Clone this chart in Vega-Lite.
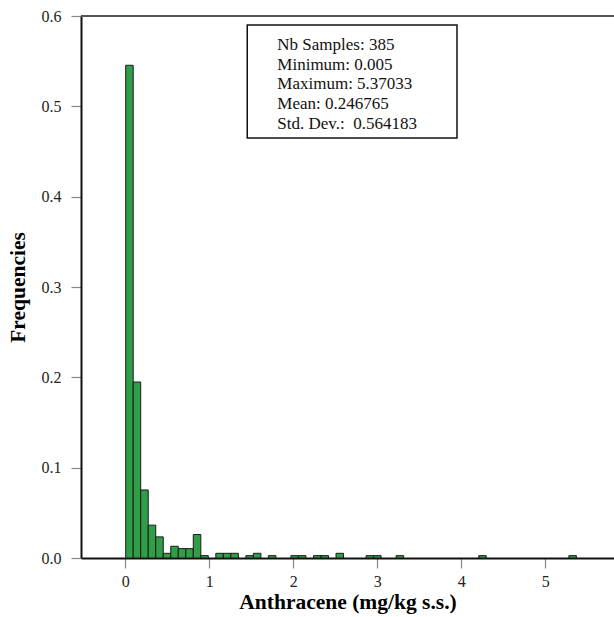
{
  "$schema": "https://vega.github.io/schema/vega-lite/v6.json",
  "width": 533,
  "height": 542,
  "autosize": {"type": "none"},
  "padding": {"left": 81, "top": 16, "right": 0, "bottom": 59},
  "background": "white",
  "config": {
    "view": {"stroke": null},
    "font": "Liberation Serif",
    "axis": {"labelFont": "Liberation Serif", "titleFont": "Liberation Serif", "grid": false}
  },
  "datasets": {
    "bins": [
      {"bin_start": 0.005, "bin_end": 0.09442, "freq": 0.54545},
      {"bin_start": 0.09442, "bin_end": 0.18384, "freq": 0.19481},
      {"bin_start": 0.18384, "bin_end": 0.27327, "freq": 0.07532},
      {"bin_start": 0.27327, "bin_end": 0.36269, "freq": 0.03636},
      {"bin_start": 0.36269, "bin_end": 0.45211, "freq": 0.02338},
      {"bin_start": 0.45211, "bin_end": 0.54153, "freq": 0.00519},
      {"bin_start": 0.54153, "bin_end": 0.63096, "freq": 0.01299},
      {"bin_start": 0.63096, "bin_end": 0.72038, "freq": 0.01039},
      {"bin_start": 0.72038, "bin_end": 0.8098, "freq": 0.01039},
      {"bin_start": 0.8098, "bin_end": 0.89922, "freq": 0.02597},
      {"bin_start": 0.89922, "bin_end": 0.98864, "freq": 0.0026},
      {"bin_start": 1.07807, "bin_end": 1.16749, "freq": 0.00519},
      {"bin_start": 1.16749, "bin_end": 1.25691, "freq": 0.00519},
      {"bin_start": 1.25691, "bin_end": 1.34633, "freq": 0.00519},
      {"bin_start": 1.43576, "bin_end": 1.52518, "freq": 0.0026},
      {"bin_start": 1.52518, "bin_end": 1.6146, "freq": 0.00519},
      {"bin_start": 1.70402, "bin_end": 1.79344, "freq": 0.0026},
      {"bin_start": 1.97229, "bin_end": 2.06171, "freq": 0.0026},
      {"bin_start": 2.06171, "bin_end": 2.15113, "freq": 0.0026},
      {"bin_start": 2.24056, "bin_end": 2.32998, "freq": 0.0026},
      {"bin_start": 2.32998, "bin_end": 2.4194, "freq": 0.0026},
      {"bin_start": 2.50882, "bin_end": 2.59824, "freq": 0.00519},
      {"bin_start": 2.86651, "bin_end": 2.95593, "freq": 0.0026},
      {"bin_start": 2.95593, "bin_end": 3.04536, "freq": 0.0026},
      {"bin_start": 3.2242, "bin_end": 3.31362, "freq": 0.0026},
      {"bin_start": 4.20784, "bin_end": 4.29727, "freq": 0.0026},
      {"bin_start": 5.28091, "bin_end": 5.37033, "freq": 0.0026}
    ],
    "stats": [
      {"text": ["Nb Samples: 385", "Minimum: 0.005", "Maximum: 5.37033", "Mean: 0.246765", "Std. Dev.:\u00a0 0.564183"]}
    ]
  },
  "layer": [
    {
      "data": {"name": "bins"},
      "mark": {"type": "bar", "fill": "#2f9e47", "stroke": "#1a1a1a", "strokeWidth": 1, "clip": true},
      "encoding": {
        "x": {
          "field": "bin_start", "type": "quantitative",
          "scale": {"domain": [-0.527, 5.818], "nice": false, "zero": false},
          "axis": {
            "title": "Anthracene (mg/kg s.s.)",
            "values": [0, 1, 2, 3, 4, 5],
            "format": "d",
            "labelFontSize": 16, "labelColor": "#222", "labelPadding": 5,
            "tickSize": 10, "tickColor": "#888", "tickWidth": 1.2,
            "domainColor": "#111", "domainWidth": 2,
            "titleFontSize": 21.5, "titleFontWeight": "bold", "titleColor": "#000", "titlePadding": 2
          }
        },
        "x2": {"field": "bin_end"},
        "y": {
          "field": "freq", "type": "quantitative",
          "scale": {"domain": [0, 0.6], "nice": false},
          "axis": {
            "title": "Frequencies",
            "values": [0, 0.1, 0.2, 0.3, 0.4, 0.5, 0.6],
            "format": ".1f",
            "labelFontSize": 16, "labelColor": "#222", "labelPadding": 10,
            "tickSize": 10, "tickColor": "#888", "tickWidth": 1.2,
            "domainColor": "#111", "domainWidth": 2,
            "titleFontSize": 21.5, "titleFontWeight": "bold", "titleColor": "#000", "titlePadding": 12
          }
        },
        "y2": {"datum": 0}
      }
    },
    {
      "data": {"values": [{}]},
      "mark": {"type": "rule", "stroke": "#555", "strokeWidth": 2},
      "encoding": {
        "x": {"datum": -0.527},
        "x2": {"datum": 5.818},
        "y": {"datum": 0.6}
      }
    },
    {
      "data": {"values": [{}]},
      "mark": {"type": "rect", "fill": "white", "stroke": "#111", "strokeWidth": 1.5},
      "encoding": {
        "x": {"datum": 1.452},
        "x2": {"datum": 3.949},
        "y": {"datum": 0.590},
        "y2": {"datum": 0.465}
      }
    },
    {
      "data": {"name": "stats"},
      "mark": {
        "type": "text", "align": "left", "baseline": "top",
        "font": "Liberation Serif", "fontSize": 17, "lineHeight": 19.7, "fill": "#111"
      },
      "encoding": {
        "x": {"datum": 1.81},
        "y": {"datum": 0.5768},
        "text": {"field": "text"}
      }
    }
  ]
}
